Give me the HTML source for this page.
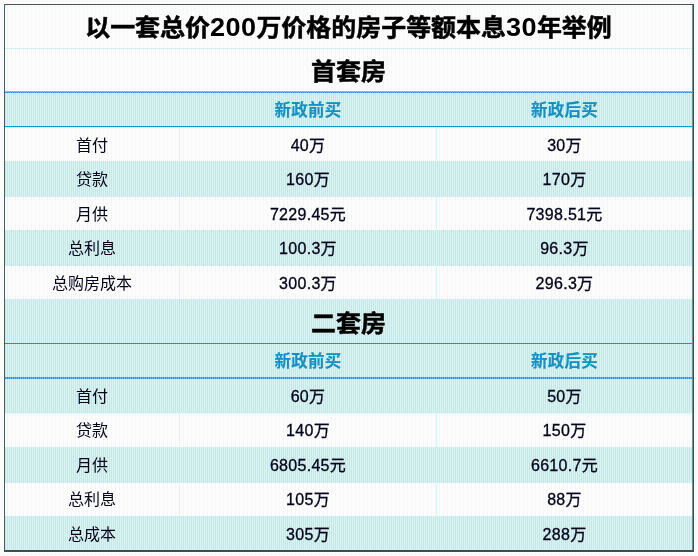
<!DOCTYPE html>
<html lang="zh-CN">
<head>
<meta charset="utf-8">
<title>以一套总价200万价格的房子等额本息30年举例</title>
<style>
html,body{margin:0;padding:0;}
body{width:698px;height:556px;position:relative;overflow:hidden;
  background:repeating-linear-gradient(90deg,#fbfbfb 0,#fbfbfb 3px,#f7f7f7 3px,#f7f7f7 4px);
  font-family:"Liberation Sans","Noto Sans CJK SC",sans-serif;color:#03031a;}
.abs{position:absolute;}
#halo{left:3px;top:3px;width:692px;height:550px;background:#fff;}
#frame{left:4px;top:4px;width:690px;height:548px;background:#3d6363;}
#frame-r{left:692px;top:5px;width:1px;height:545px;background:#5e9d9d;}
#frame-r2{left:693px;top:4px;width:1px;height:548px;background:#464646;}
#frame-b{left:4px;top:550px;width:690px;height:1px;background:#484848;}
#frame-b2{left:4px;top:551px;width:689px;height:1px;background:repeating-linear-gradient(90deg,#464646 0,#464646 1px,#226666 1px,#226666 2px);}
#frame-t{left:5px;top:4px;width:688px;height:1px;background:repeating-linear-gradient(90deg,#4c4c4c 0,#4c4c4c 3px,#2a6a6a 3px,#2a6a6a 4px);}
#inner{left:5px;top:5px;width:687px;height:545px;
  background:repeating-linear-gradient(90deg,#fcfcfc 0,#fcfcfc 2px,#f6f6f6 2px,#f6f6f6 3px,#fcfcfc 3px,#fcfcfc 4px);}
.cy{left:5px;width:687px;background:repeating-linear-gradient(90deg,#dddddd 0,#dddddd 1px,#c4ffff 1px,#c4ffff 2px);}
.lt{left:5px;width:687px;height:1px;background:repeating-linear-gradient(90deg,#fbfbfb 0,#fbfbfb 1px,#c4ffff 1px,#c4ffff 2px);}
.wh{left:5px;width:687px;height:1px;background:#fffefe;}
.ln{left:5px;width:687px;height:1px;}
.vl{width:1px;background:#ebebeb;}
.vc{width:1px;left:436px;background:#c4ffff;}
.t{white-space:nowrap;text-align:center;line-height:1;}
.big{font-weight:bold;font-size:24px;color:#000;left:5px;width:687px;transform:scaleX(1.04);transform-origin:50% 50%;-webkit-text-stroke:0.5px #000;}
.big .n{font-size:26px;-webkit-text-stroke:0;letter-spacing:0.4px;}
.hd{font-weight:bold;font-size:16.5px;color:#1590c4;-webkit-text-stroke:0.15px #1590c4;}
.c{font-size:16px;}
.c1{left:5px;width:174px;}
.c2{left:180px;width:256px;letter-spacing:0.3px;}
.c3{left:437px;width:255px;letter-spacing:0.3px;}
.c.c2,.c.c3{-webkit-text-stroke:0.3px #03031a;}
</style>
</head>
<body>
<div class="abs" id="halo"></div>
<div class="abs" id="frame"></div>
<div class="abs" id="frame-t"></div>
<div class="abs" id="frame-r"></div>
<div class="abs" id="frame-r2"></div>
<div class="abs" id="frame-b"></div>
<div class="abs" id="frame-b2"></div>
<div class="abs" id="inner"></div>

<!-- row backgrounds -->
<div class="abs cy" style="top:48px;height:1px"></div>
<div class="abs ln" style="top:91px;background:repeating-linear-gradient(90deg,#a0d0d0 0,#a0d0d0 1px,#50b8ff 1px,#50b8ff 2px)"></div>
<div class="abs ln" style="top:92px;background:repeating-linear-gradient(90deg,#4478cc 0,#4478cc 1px,#50b8ff 1px,#50b8ff 2px)"></div>
<div class="abs cy" style="top:93px;height:35px"></div>
<div class="abs ln" style="top:126px;background:#0899cc"></div>
<div class="abs cy" style="top:161px;height:36px"></div>
<div class="abs cy" style="top:230px;height:36px"></div>
<div class="abs cy" style="top:299px;height:44px"></div>
<div class="abs ln" style="top:343px;background:#0899cc"></div>
<div class="abs cy" style="top:344px;height:33px"></div>
<div class="abs ln" style="top:377px;height:2px;background:repeating-linear-gradient(90deg,#4488cc 0,#4488cc 1px,#55bbff 1px,#55bbff 2px)"></div>
<div class="abs cy" style="top:379px;height:34px"></div>
<div class="abs lt" style="top:413px"></div>
<div class="abs cy" style="top:447px;height:36px"></div>
<div class="abs cy" style="top:516px;height:34px"></div>

<!-- faint column dividers in white rows -->
<div class="abs vl" style="left:179px;top:128px;height:33px"></div>
<div class="abs vl" style="left:179px;top:198px;height:31px"></div>
<div class="abs vl" style="left:179px;top:267px;height:31px"></div>
<div class="abs vl" style="left:179px;top:414px;height:32px"></div>
<div class="abs vl" style="left:179px;top:484px;height:31px"></div>
<div class="abs vc" style="top:128px;height:33px"></div>
<div class="abs vc" style="top:197px;height:33px"></div>
<div class="abs vc" style="top:266px;height:33px"></div>
<div class="abs vc" style="top:414px;height:33px"></div>
<div class="abs vc" style="top:483px;height:33px"></div>

<!-- titles -->
<div class="abs t big" style="top:14px">以一套总价<span class="n">200</span>万价格的房子等额本息<span class="n">30</span>年举例</div>
<div class="abs t big" style="top:60px">首套房</div>
<div class="abs t big" style="top:312px">二套房</div>

<!-- table 1 -->
<div class="abs t hd c2" style="top:102px">新政前买</div>
<div class="abs t hd c3" style="top:102px">新政后买</div>

<div class="abs t c c1" style="top:138px">首付</div>
<div class="abs t c c2" style="top:138px">40万</div>
<div class="abs t c c3" style="top:138px">30万</div>

<div class="abs t c c1" style="top:172px">贷款</div>
<div class="abs t c c2" style="top:172px">160万</div>
<div class="abs t c c3" style="top:172px">170万</div>

<div class="abs t c c1" style="top:207px">月供</div>
<div class="abs t c c2" style="top:207px">7229.45元</div>
<div class="abs t c c3" style="top:207px">7398.51元</div>

<div class="abs t c c1" style="top:241px">总利息</div>
<div class="abs t c c2" style="top:241px">100.3万</div>
<div class="abs t c c3" style="top:241px">96.3万</div>

<div class="abs t c c1" style="top:276px">总购房成本</div>
<div class="abs t c c2" style="top:276px">300.3万</div>
<div class="abs t c c3" style="top:276px">296.3万</div>

<!-- table 2 -->
<div class="abs t hd c2" style="top:353px">新政前买</div>
<div class="abs t hd c3" style="top:353px">新政后买</div>

<div class="abs t c c1" style="top:389px">首付</div>
<div class="abs t c c2" style="top:389px">60万</div>
<div class="abs t c c3" style="top:389px">50万</div>

<div class="abs t c c1" style="top:423px">贷款</div>
<div class="abs t c c2" style="top:423px">140万</div>
<div class="abs t c c3" style="top:423px">150万</div>

<div class="abs t c c1" style="top:458px">月供</div>
<div class="abs t c c2" style="top:458px">6805.45元</div>
<div class="abs t c c3" style="top:458px">6610.7元</div>

<div class="abs t c c1" style="top:492px">总利息</div>
<div class="abs t c c2" style="top:492px">105万</div>
<div class="abs t c c3" style="top:492px">88万</div>

<div class="abs t c c1" style="top:527px">总成本</div>
<div class="abs t c c2" style="top:527px">305万</div>
<div class="abs t c c3" style="top:527px">288万</div>
</body>
</html>
